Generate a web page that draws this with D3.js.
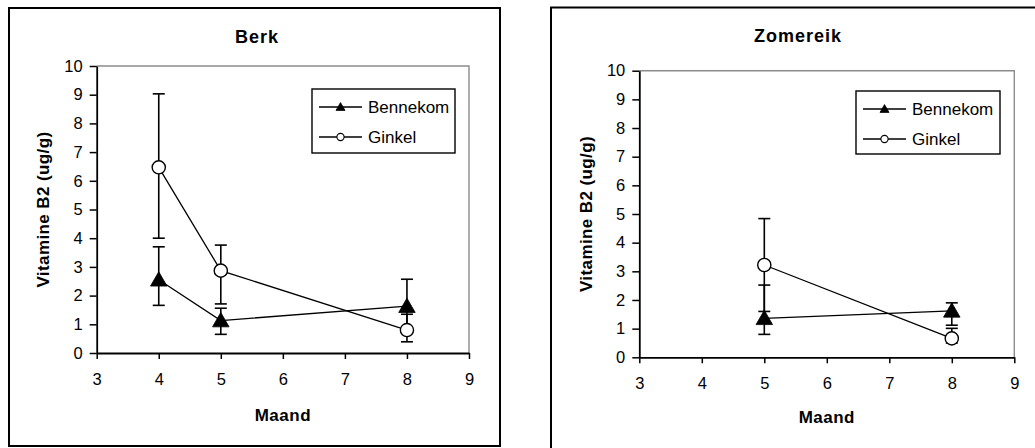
<!DOCTYPE html>
<html>
<head>
<meta charset="utf-8">
<script src="https://cdn.jsdelivr.net/npm/d3@7"></script>
<style>
  html, body { margin: 0; padding: 0; background: #fff; }
  svg { display: block; font-family: "Liberation Sans", Arial, sans-serif; }
</style>
</head>
<body>
<svg id="chart" width="1035" height="448"></svg>
<script>
// ---------- DATA ----------
const xTicks = [3, 4, 5, 6, 7, 8, 9];
const yTicks = [0, 1, 2, 3, 4, 5, 6, 7, 8, 9, 10];
const seriesNames = ["Bennekom", "Ginkel"];

const berkMonths = [4, 5, 8];
const berkBennekom = [2.55, 1.13, 1.63];
const berkBennekomUp = [3.70, 1.56, 2.57];
const berkBennekomLow = [1.66, 0.65, 0.71];
const berkGinkel = [6.47, 2.87, 0.80];
const berkGinkelUp = [9.03, 3.76, 1.35];
const berkGinkelLow = [4.00, 1.71, 0.39];

const zomMonths = [5, 8];
const zomBennekom = [1.36, 1.62];
const zomBennekomUp = [2.52, 1.90];
const zomBennekomLow = [0.80, 1.12];
const zomGinkel = [3.22, 0.66];
const zomGinkelUp = [4.84, 1.01];
const zomGinkelLow = [1.60, 0.50];

// ---------- LAYOUT ----------
const panels = [
  {
    title: "Berk",
    box: [9, 8, 500, 446],
    plot: [96.7, 66, 469, 353],
    legend: [312, 89, 455, 153],
    titleX: 257, titleY: 42.5,
    xLabelY: 420.5, yLabelX: 49,
    months: berkMonths,
    series: [
      { v: berkBennekom, up: berkBennekomUp, low: berkBennekomLow },
      { v: berkGinkel, up: berkGinkelUp, low: berkGinkelLow }
    ]
  },
  {
    title: "Zomereik",
    box: [551, 7.5, 1045, 455],
    plot: [639.3, 70.7, 1014.3, 357.3],
    legend: [856, 91, 1000, 154],
    titleX: 798, titleY: 42,
    xLabelY: 423, yLabelX: 592,
    months: zomMonths,
    series: [
      { v: zomBennekom, up: zomBennekomUp, low: zomBennekomLow },
      { v: zomGinkel, up: zomGinkelUp, low: zomGinkelLow }
    ]
  }
];

const svg = d3.select("#chart");

function marker(g, type, cx, cy, big) {
  if (type === 0) {
    const side = big ? 16.5 : 9;
    const area = Math.sqrt(3) / 4 * side * side;
    g.append("path")
      .attr("d", d3.symbol(d3.symbolTriangle, area)())
      .attr("transform", `translate(${cx},${cy + (big ? 1.5 : 0.8)})`)
      .attr("fill", "#000").attr("stroke", "#000").attr("stroke-width", 0.8);
  } else {
    g.append("circle")
      .attr("cx", cx).attr("cy", cy).attr("r", big ? 6.6 : 3.6)
      .attr("fill", "#fff").attr("stroke", "#000").attr("stroke-width", big ? 1.4 : 1.1);
  }
}

panels.forEach(p => {
  const g = svg.append("g");
  const [bx0, by0, bx1, by1] = p.box;
  g.append("rect").attr("x", bx0).attr("y", by0)
    .attr("width", bx1 - bx0).attr("height", by1 - by0)
    .attr("fill", "#fff").attr("stroke", "#000").attr("stroke-width", 2);

  const [px0, py0, px1, py1] = p.plot;
  const x = d3.scaleLinear().domain([3, 9]).range([px0, px1]);
  const y = d3.scaleLinear().domain([0, 10]).range([py1, py0]);

  // plot area frame (top/right gray)
  g.append("path")
    .attr("d", `M${px0},${py0}H${px1}V${py1}`)
    .attr("fill", "none").attr("stroke", "#8c8c8c").attr("stroke-width", 1.4);

  // axes
  const ya = g.append("g").attr("transform", `translate(${px0},0)`)
    .call(d3.axisLeft(y).tickValues(yTicks).tickFormat(d3.format("d"))
      .tickSize(7).tickPadding(7).tickSizeOuter(0));
  const xa = g.append("g").attr("transform", `translate(0,${py1})`)
    .call(d3.axisBottom(x).tickValues(xTicks).tickFormat(d3.format("d"))
      .tickSize(6).tickPadding(14).tickSizeOuter(0));
  [ya, xa].forEach(a => {
    a.attr("font-size", 16.5).attr("font-family", "'Liberation Sans', Arial, sans-serif");
    a.select(".domain").attr("stroke", "#000").attr("stroke-width", 1.8);
    a.selectAll(".tick line").attr("stroke", "#000").attr("stroke-width", 1.5);
    a.selectAll(".tick text").attr("fill", "#000")
      .style("font-size", "16.5px").style("font-family", "'Liberation Sans', Arial, sans-serif");
  });

  // titles
  g.append("text").attr("x", p.titleX).attr("y", p.titleY)
    .attr("text-anchor", "middle").style("font-size", "18px").style("font-weight", "bold")
    .style("letter-spacing", "1px")
    .text(p.title);
  g.append("text").attr("x", (px0 + px1) / 2).attr("y", p.xLabelY)
    .attr("text-anchor", "middle").style("font-size", "17px").style("font-weight", "bold")
    .style("letter-spacing", "0.5px")
    .text("Maand");
  g.append("text")
    .attr("transform", `translate(${p.yLabelX},${(py0 + py1) / 2}) rotate(-90)`)
    .attr("text-anchor", "middle").style("font-size", "17px").style("font-weight", "bold")
    .style("letter-spacing", "0.4px")
    .text("Vitamine B2 (ug/g)");

  // error bars
  p.series.forEach(s => {
    p.months.forEach((m, i) => {
      const cx = x(m);
      g.append("line").attr("x1", cx).attr("x2", cx)
        .attr("y1", y(s.low[i])).attr("y2", y(s.up[i]))
        .attr("stroke", "#000").attr("stroke-width", 1.6);
      [s.low[i], s.up[i]].forEach(val => {
        g.append("line").attr("x1", cx - 6).attr("x2", cx + 6)
          .attr("y1", y(val)).attr("y2", y(val))
          .attr("stroke", "#000").attr("stroke-width", 1.6);
      });
    });
  });

  // lines
  const line = d3.line().x(d => x(d[0])).y(d => y(d[1]));
  p.series.forEach(s => {
    g.append("path").datum(p.months.map((m, i) => [m, s.v[i]]))
      .attr("d", line).attr("fill", "none").attr("stroke", "#000").attr("stroke-width", 1.3);
  });

  // markers
  p.series.forEach((s, k) => {
    p.months.forEach((m, i) => marker(g, k, x(m), y(s.v[i]), true));
  });

  // legend
  const [lx0, ly0, lx1, ly1] = p.legend;
  g.append("rect").attr("x", lx0).attr("y", ly0)
    .attr("width", lx1 - lx0).attr("height", ly1 - ly0)
    .attr("fill", "#fff").attr("stroke", "#000").attr("stroke-width", 1.4);
  seriesNames.forEach((name, k) => {
    const ry = ly0 + 18 + k * 30;
    g.append("line").attr("x1", lx0 + 7).attr("x2", lx0 + 50)
      .attr("y1", ry).attr("y2", ry).attr("stroke", "#000").attr("stroke-width", 1.3);
    marker(g, k, lx0 + 28.5, ry, false);
    g.append("text").attr("x", lx0 + 56).attr("y", ry + 6)
      .style("font-size", "17px").text(name);
  });
});
</script>
</body>
</html>
